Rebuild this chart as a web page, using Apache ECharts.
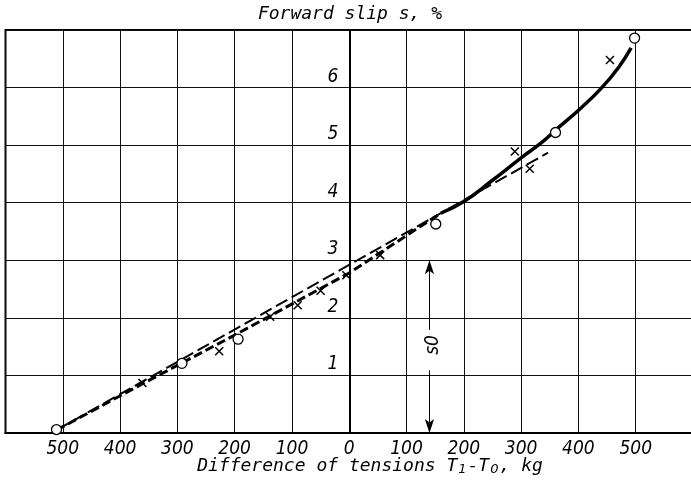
<!DOCTYPE html>
<html>
<head>
<meta charset="utf-8">
<script src="https://cdn.jsdelivr.net/npm/echarts@6/dist/echarts.min.js"></script>
<style>
  html, body { margin: 0; padding: 0; background: #fff; }
  #chart { width: 691px; height: 483px; }
</style>
</head>
<body>
<div id="chart"></div>
<script>
// x: difference of tensions T1 - T0 (kg), y: forward slip s (%)
const circlePoints = [[-511, 0.06], [-292, 1.21], [-194, 1.63], [151, 3.63], [360, 5.22], [498, 6.86]];
const crossPoints = [[-361, 0.87], [-227, 1.42], [-138, 2.02], [-90, 2.22], [-50, 2.47], [-5, 2.74],
                     [54, 3.09], [289, 4.89], [315, 4.59], [455, 6.48]];
// straight long-dash line
const straightLine = [[-511, 0.05], [347, 4.87]];
// short-dash curve through the crosses (left part)
const dashedCurve = [[-511, 0.05], [-360, 0.86], [-200, 1.70], [0, 2.78], [160, 3.82]];
// solid curve (right part)
const solidCurve = [[160, 3.82], [200, 4.02], [250, 4.39], [300, 4.78], [335, 5.04], [360, 5.26],
                    [405, 5.65], [440, 5.99], [470, 6.35], [492, 6.69]];
// s0 dimension arrow: position on x, span on y, gap around its label
const s0X = 140;
const s0Span = [0, 3];
const s0Gap = [1.09, 1.79];
const s0LabelAt = [146, 1.53];

const xRange = [-600, 600];
const yRange = [0, 7];
const xTickLabels = ['', '500', '400', '300', '200', '100', '0', '100', '200', '300', '400', '500', ''];
const yTickLabels = ['', '1', '2', '3', '4', '5', '6', ''];

const tickFont = "'Liberation Sans Narrow', 'DejaVu Sans Condensed', sans-serif";
const titleFont = "'DejaVu Sans Mono', monospace";
const subFont = "'DejaVu Sans', sans-serif";

// y tick labels sit beside the vertical axis at x = 0
const yLabelPoints = yTickLabels
  .map((t, i) => ({ value: [0, i], label: t }))
  .filter((d) => d.label !== '');

const chart = echarts.init(document.getElementById('chart'), null, { renderer: 'canvas' });

chart.setOption({
  backgroundColor: '#fff',
  animation: false,
  grid: {
    left: 5.5, right: -2, top: 30, bottom: 50,
    outerBoundsMode: 'none', containLabel: false,
    show: true, borderColor: '#000', borderWidth: 2, backgroundColor: 'transparent'
  },
  xAxis: {
    type: 'value', min: xRange[0], max: xRange[1], interval: 100,
    axisLine: { show: true, onZero: false, lineStyle: { color: '#000', width: 2 } },
    axisTick: { show: false },
    splitLine: { show: true, lineStyle: { color: '#111', width: 1 } },
    axisLabel: {
      margin: 7, color: '#000', fontSize: 19, fontStyle: 'italic', fontFamily: tickFont,
      formatter: (v) => xTickLabels[Math.round((v - xRange[0]) / 100)] || ''
    }
  },
  yAxis: {
    type: 'value', min: yRange[0], max: yRange[1], interval: 1,
    axisLine: { show: true, onZero: true, lineStyle: { color: '#000', width: 2 } },
    axisTick: { show: false },
    splitLine: { show: true, lineStyle: { color: '#111', width: 1 } },
    axisLabel: { show: false }
  },
  graphic: [
    {
      type: 'text', x: 350, y: 14,
      style: {
        text: 'Forward slip s, %', fill: '#000', align: 'center', verticalAlign: 'middle',
        font: 'italic 18px ' + titleFont
      }
    },
    {
      type: 'text', x: 370, y: 466,
      style: {
        text: 'Difference of tensions T{sub|1}-T{sub|0}, kg', fill: '#000',
        align: 'center', verticalAlign: 'middle',
        font: 'italic 18px ' + titleFont,
        rich: {
          sub: { font: 'italic 13px ' + subFont, fill: '#000', padding: [8, 1, 0, 1] }
        }
      }
    }
  ],
  series: [
    {
      type: 'line', data: straightLine, showSymbol: false, silent: true, z: 2,
      lineStyle: { color: '#000', width: 2, type: [13, 5] }
    },
    {
      type: 'line', data: dashedCurve, showSymbol: false, silent: true, z: 2,
      lineStyle: { color: '#000', width: 3, type: [9, 4] }
    },
    {
      type: 'line', data: solidCurve, smooth: true, showSymbol: false, silent: true, z: 2,
      lineStyle: { color: '#000', width: 3.5 },
      markLine: {
        silent: true,
        symbol: ['none', 'none'],
        symbolSize: [7, 14],
        label: { show: false },
        lineStyle: { color: '#000', width: 1, type: 'solid' },
        data: [
          [{ coord: [s0X, s0Span[0]], symbol: 'arrow' }, { coord: [s0X, s0Gap[0]], symbol: 'none' }],
          [{ coord: [s0X, s0Gap[1]], symbol: 'none' }, { coord: [s0X, s0Span[1]], symbol: 'arrow' }]
        ]
      }
    },
    {
      type: 'scatter', data: [s0LabelAt], symbolSize: 0, silent: true, z: 3,
      itemStyle: { opacity: 1 },
      label: {
        show: true, position: 'inside', rotate: 90, formatter: 's0',
        color: '#000', fontSize: 19, fontStyle: 'italic', fontFamily: tickFont
      }
    },
    {
      type: 'scatter', data: yLabelPoints, symbolSize: 0, silent: true, z: 3,
      itemStyle: { opacity: 1 },
      label: {
        show: true, position: 'left', distance: 11, offset: [0, -11],
        formatter: (p) => p.data.label,
        color: '#000', fontSize: 19, fontStyle: 'italic', fontFamily: tickFont
      }
    },
    {
      type: 'scatter', data: crossPoints, silent: true, z: 4,
      symbol: 'path://M0,0L10,10M10,0L0,10', symbolSize: 8,
      itemStyle: { color: 'none', borderColor: '#000', borderWidth: 1.5, opacity: 1 }
    },
    {
      type: 'scatter', data: circlePoints, silent: true, z: 5,
      symbol: 'circle', symbolSize: 10,
      itemStyle: { color: '#fff', borderColor: '#000', borderWidth: 1.3, opacity: 1 }
    }
  ]
});
</script>
</body>
</html>
